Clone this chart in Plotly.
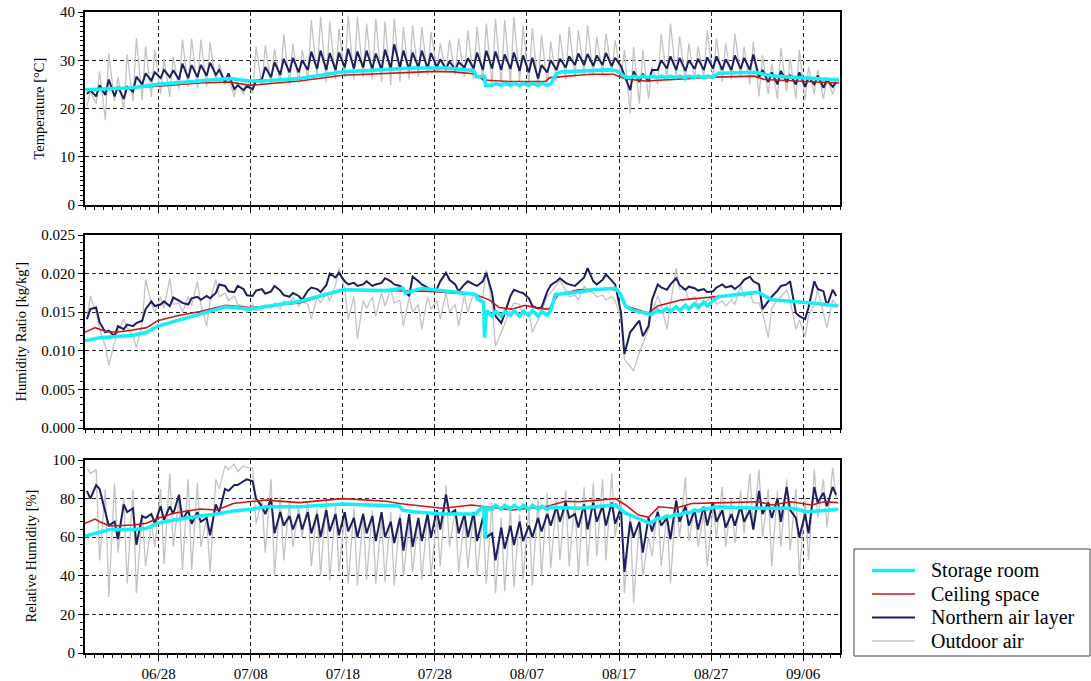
import datetime as dt
import plotly.graph_objects as go

# ---------------------------------------------------------------------------
# Measurement period: 2021-06-20 00:00 .. 2021-09-10 00:00 (82 days)
# Daily-cycle series are stored as one value at 05:00 ("am") and one at
# 14:00 ("pm") of each day; slowly varying series as (day offset, value).
# ---------------------------------------------------------------------------
START = dt.datetime(2021, 6, 20)
N_DAYS = 82

legend_names = ["Storage room", "Ceiling space", "Northern air layer", "Outdoor air"]

# ----------------------------- Temperature [°C] ----------------------------
outdoor_temp_am = [
    20.5, 21.0, 17.6, 21.5, 19.7, 21.5, 21.7, 22.4, 23.0, 22.4,
    24.0, 24.5, 24.1, 24.5, 25.5, 25.0, 22.4, 22.8, 23.1, 24.8,
    25.0, 25.2, 25.0, 25.3, 26.0, 26.5, 25.5, 26.0, 26.5, 26.0,
    26.5, 26.0, 25.5, 24.9, 25.5, 26.0, 26.5, 27.0, 28.0, 27.5,
    27.0, 26.5, 26.0, 25.5, 25.0, 24.8, 25.0, 25.5, 25.0, 24.5,
    24.8, 25.5, 26.0, 26.5, 27.0, 26.6, 27.0, 27.5, 26.5, 19.0,
    21.0, 22.0, 25.0, 26.0, 26.5, 25.5, 26.0, 26.5, 26.0, 25.5,
    26.0, 26.5, 25.0, 22.5, 23.0, 22.0, 23.5, 22.0, 21.7, 23.0,
    22.0, 23.0]
outdoor_temp_pm = [
    23.5, 27.7, 31.4, 26.5, 31.2, 34.6, 32.9, 32.2, 30.3, 30.7,
    34.3, 34.5, 34.3, 33.7, 29.3, 26.5, 25.5, 26.0, 32.8, 33.1,
    32.4, 35.4, 33.4, 32.2, 38.3, 39.0, 38.0, 36.6, 39.3, 39.0,
    37.6, 38.6, 38.0, 38.6, 36.9, 37.2, 36.9, 35.9, 33.5, 34.2,
    34.5, 36.2, 36.9, 37.6, 38.6, 38.3, 39.0, 37.2, 36.6, 35.2,
    33.8, 35.5, 36.9, 36.2, 37.3, 34.9, 35.5, 34.2, 32.1, 32.8,
    32.1, 28.6, 35.5, 37.6, 34.9, 33.5, 32.8, 36.2, 34.5, 33.5,
    35.5, 32.8, 33.8, 31.0, 29.3, 32.5, 30.3, 32.1, 28.6, 28.0,
    26.3, 25.2]
north_temp_am = [
    23.0, 22.5, 22.8, 22.5, 22.0, 23.5, 25.0, 25.8, 26.3, 26.5,
    26.0, 26.3, 26.5, 26.8, 27.0, 25.5, 24.0, 23.8, 24.0, 26.0,
    26.5, 27.0, 27.5, 27.5, 28.0, 28.2, 28.0, 28.0, 28.5, 28.3,
    28.5, 28.2, 28.0, 28.3, 28.5, 28.0, 28.5, 28.3, 28.5, 28.2,
    28.0, 28.5, 28.3, 28.0, 28.3, 28.0, 28.2, 27.8, 27.5, 26.2,
    27.5, 28.0, 28.5, 29.0, 29.0, 28.8, 29.0, 28.8, 28.8, 23.8,
    25.5, 25.6, 28.0, 28.3, 28.0, 27.8, 28.2, 28.0, 28.3, 28.0,
    28.0, 28.2, 28.0, 26.5, 25.5, 25.0, 25.5, 25.0, 24.5, 25.0,
    24.3, 24.5]
north_temp_pm = [
    23.8, 24.8, 26.0, 24.5, 24.5, 26.6, 27.3, 27.5, 28.0, 27.9,
    29.3, 29.0, 29.0, 29.5, 28.0, 27.3, 24.8, 24.6, 25.8, 28.6,
    29.6, 30.3, 30.5, 30.0, 31.8, 32.0, 31.5, 31.6, 32.4, 31.8,
    32.0, 31.4, 32.2, 33.3, 32.0, 31.6, 32.0, 31.5, 30.2, 29.8,
    29.6, 30.4, 31.6, 32.0, 31.8, 31.2, 31.6, 31.0, 30.5, 29.0,
    30.0, 30.3, 30.8, 31.4, 31.3, 31.0, 31.5, 30.5, 27.0, 27.7,
    27.2, 28.0, 30.0, 30.8, 30.5, 30.0, 30.3, 30.6, 30.8, 30.2,
    31.0, 30.5, 31.2, 28.0, 27.5, 27.8, 27.0, 27.5, 26.5, 26.8,
    26.0, 25.5]
ceiling_temp_days = [0, 5.2, 7.9, 12.5, 15.7, 17.9, 23.3, 28.0, 38.0, 40.0,
                     42.2, 43.3, 46.0, 50.0, 50.5, 53.6, 55.0, 57.4, 58.7, 60.9,
                     68.4, 72.7, 73.8, 81.9]
ceiling_temp = [23.8, 24.3, 24.6, 25.3, 25.5, 24.8, 25.7, 26.9, 27.7, 27.6,
                27.2, 25.9, 25.6, 25.6, 26.4, 26.9, 27.1, 27.1, 26.1, 25.7,
                26.5, 26.7, 26.0, 25.3]
storage_temp_days = [0, 5.2, 7.9, 12.5, 15.7, 17.9, 19.3, 23.3, 28.0, 35.6,
                     39.2, 42.2, 42.5, 43.4, 43.5,
                     44.2, 44.6, 45.2, 45.6, 46.2, 46.6, 47.2, 47.6, 48.2, 48.6,
                     49.2, 49.6, 50.2, 50.6,
                     51.2, 51.8, 56.9, 57.8, 58.7,
                     59.2, 59.6, 60.2, 60.6, 61.2, 61.6, 62.2, 62.6, 63.2, 63.6,
                     64.2, 64.6, 65.2, 65.6, 66.2, 66.6, 67.2, 67.6, 68.2,
                     68.8, 72.7, 74.9, 81.9]
storage_temp = [23.9, 24.3, 25.0, 25.7, 26.2, 25.7, 25.7, 26.2, 27.6, 28.4,
                28.4, 27.9, 26.6, 26.6, 24.8,
                24.8, 25.2, 24.8, 25.2, 24.8, 25.2, 24.8, 25.2, 24.8, 25.2,
                24.8, 25.2, 24.8, 25.1,
                27.2, 27.6, 28.0, 27.8, 26.5,
                26.4, 26.7, 26.4, 26.7, 26.4, 26.7, 26.4, 26.7, 26.4, 26.7,
                26.4, 26.7, 26.4, 26.7, 26.4, 26.7, 26.4, 26.7, 26.5,
                27.3, 27.5, 26.7, 25.9]

# --------------------------- Humidity ratio [kg/kg'] -----------------------
outdoor_hr_am = [
    0.0141, 0.0150, 0.0106, 0.0111, 0.0141, 0.0120, 0.0135, 0.0162, 0.0170, 0.0194,
    0.0162, 0.0170, 0.0190, 0.0132, 0.0192, 0.0175, 0.0171, 0.0158, 0.0160, 0.0153,
    0.0155, 0.0154, 0.0160, 0.0158, 0.0160, 0.0170, 0.0175, 0.0185, 0.0180, 0.0170,
    0.0165, 0.0170, 0.0175, 0.0180, 0.0165, 0.0170, 0.0160, 0.0170, 0.0165, 0.0175,
    0.0160, 0.0172, 0.0175, 0.0170, 0.0160, 0.0124, 0.0154, 0.0160, 0.0150, 0.0140,
    0.0171, 0.0185, 0.0178, 0.0172, 0.0184, 0.0175, 0.0172, 0.0170, 0.0141, 0.0080,
    0.0098, 0.0128, 0.0171, 0.0128, 0.0207, 0.0179, 0.0170, 0.0162, 0.0171, 0.0165,
    0.0166, 0.0184, 0.0175, 0.0162, 0.0117, 0.0166, 0.0179, 0.0128, 0.0118, 0.0160,
    0.0150, 0.0166]
outdoor_hr_pm = [
    0.0171, 0.0128, 0.0081, 0.0125, 0.0130, 0.0104, 0.0192, 0.0150, 0.0155, 0.0160,
    0.0150, 0.0158, 0.0160, 0.0165, 0.0170, 0.0165, 0.0160, 0.0150, 0.0152, 0.0160,
    0.0162, 0.0165, 0.0170, 0.0164, 0.0141, 0.0162, 0.0165, 0.0207, 0.0141, 0.0115,
    0.0155, 0.0145, 0.0158, 0.0162, 0.0132, 0.0150, 0.0128, 0.0154, 0.0141, 0.0150,
    0.0132, 0.0150, 0.0164, 0.0205, 0.0106, 0.0135, 0.0162, 0.0145, 0.0124, 0.0150,
    0.0175, 0.0192, 0.0170, 0.0166, 0.0178, 0.0170, 0.0166, 0.0165, 0.0089, 0.0074,
    0.0110, 0.0150, 0.0160, 0.0160, 0.0180, 0.0166, 0.0160, 0.0165, 0.0160, 0.0158,
    0.0160, 0.0170, 0.0162, 0.0150, 0.0155, 0.0170, 0.0165, 0.0140, 0.0145, 0.0179,
    0.0130, 0.0160]
north_hr_am = [
    0.0141, 0.0156, 0.0124, 0.0119, 0.0128, 0.0132, 0.0139, 0.0164, 0.0160, 0.0158,
    0.0165, 0.0160, 0.0170, 0.0171, 0.0175, 0.0184, 0.0176, 0.0180, 0.0171, 0.0180,
    0.0177, 0.0178, 0.0170, 0.0171, 0.0178, 0.0180, 0.0185, 0.0195, 0.0190, 0.0188,
    0.0186, 0.0184, 0.0188, 0.0190, 0.0184, 0.0171, 0.0190, 0.0182, 0.0180, 0.0201,
    0.0186, 0.0186, 0.0186, 0.0190, 0.0175, 0.0136, 0.0171, 0.0176, 0.0168, 0.0155,
    0.0177, 0.0190, 0.0188, 0.0184, 0.0195, 0.0190, 0.0192, 0.0190, 0.0150, 0.0124,
    0.0139, 0.0132, 0.0186, 0.0179, 0.0194, 0.0179, 0.0181, 0.0180, 0.0177, 0.0186,
    0.0184, 0.0186, 0.0196, 0.0186, 0.0164, 0.0178, 0.0186, 0.0149, 0.0141, 0.0190,
    0.0177, 0.0179]
north_hr_pm = [
    0.0154, 0.0137, 0.0126, 0.0132, 0.0134, 0.0136, 0.0154, 0.0158, 0.0164, 0.0169,
    0.0162, 0.0168, 0.0166, 0.0168, 0.0186, 0.0177, 0.0184, 0.0172, 0.0178, 0.0174,
    0.0184, 0.0172, 0.0175, 0.0166, 0.0182, 0.0176, 0.0200, 0.0201, 0.0186, 0.0184,
    0.0190, 0.0186, 0.0194, 0.0186, 0.0180, 0.0196, 0.0186, 0.0177, 0.0190, 0.0192,
    0.0177, 0.0190, 0.0184, 0.0201, 0.0145, 0.0148, 0.0179, 0.0175, 0.0158, 0.0156,
    0.0185, 0.0194, 0.0186, 0.0188, 0.0207, 0.0186, 0.0199, 0.0186, 0.0096, 0.0130,
    0.0119, 0.0166, 0.0182, 0.0186, 0.0185, 0.0183, 0.0178, 0.0176, 0.0182, 0.0182,
    0.0180, 0.0192, 0.0190, 0.0154, 0.0170, 0.0184, 0.0190, 0.0145, 0.0156, 0.0180,
    0.0158, 0.0171]
ceiling_hr_days = [0, 1.1, 2.3, 3.4, 5.2, 6.7, 7.9, 9.9, 12.5, 15.3,
                   17.9, 21.5, 23.3, 28.0, 32.7, 37.7, 39.9, 42.4, 43.9, 45.0,
                   46.4, 47.8, 49.2, 50.4, 51.4, 53.6, 56.9, 57.9, 58.7, 61.2,
                   62.2, 64.8, 68.4, 73.1, 74.6, 78.9, 81.8]
ceiling_hr = [0.0124, 0.0130, 0.0125, 0.0124, 0.0127, 0.0130, 0.0139, 0.0145, 0.0151, 0.0159,
              0.0156, 0.0160, 0.0162, 0.0179, 0.0178, 0.0177, 0.0175, 0.0173, 0.0166, 0.0156,
              0.0154, 0.0159, 0.0155, 0.0154, 0.0173, 0.0179, 0.0180, 0.0178, 0.0158, 0.0149,
              0.0158, 0.0166, 0.0170, 0.0175, 0.0166, 0.0162, 0.0158]
storage_hr_days = [0, 1.6, 5.2, 6.7, 7.9, 9.9, 12.5, 15.3, 17.9, 19.7,
                   21.5, 23.3, 28.0, 32.7, 34.5, 34.8, 36.6, 39.2, 42.4, 42.8,
                   43.3, 43.4, 43.6,
                   44.2, 44.6, 45.2, 45.6, 46.2, 46.6, 47.2, 47.6, 48.2, 48.6,
                   49.2, 49.6, 50.2, 50.5,
                   51.1, 53.6, 55.1, 57.6, 58.1, 58.7, 59.4, 61.4,
                   61.8, 62.2, 62.6, 63.2, 63.6, 64.2, 64.6, 65.2, 65.6, 66.2,
                   66.6, 67.2, 67.6, 68.2,
                   68.8, 73.1, 74.6, 76.7, 78.9, 81.8]
storage_hr = [0.0113, 0.0117, 0.0120, 0.0124, 0.0132, 0.0139, 0.0147, 0.0157, 0.0154, 0.0157,
              0.0161, 0.0164, 0.0179, 0.0178, 0.0181, 0.0175, 0.0181, 0.0177, 0.0173, 0.0166,
              0.0163, 0.0117, 0.0152,
              0.0145, 0.0151, 0.0145, 0.0151, 0.0146, 0.0152, 0.0145, 0.0151, 0.0146, 0.0152,
              0.0145, 0.0151, 0.0146, 0.0150,
              0.0173, 0.0176, 0.0179, 0.0181, 0.0175, 0.0158, 0.0153, 0.0147,
              0.0149, 0.0153, 0.0150, 0.0155, 0.0151, 0.0157, 0.0152, 0.0159, 0.0154, 0.0161,
              0.0156, 0.0163, 0.0158, 0.0165,
              0.0170, 0.0176, 0.0166, 0.0164, 0.0162, 0.0158]

# --------------------------- Relative humidity [%] -------------------------
outdoor_rh_am = [
    96, 95, 85, 88, 80, 85, 72, 67, 85, 93,
    80, 90, 88, 70, 90, 97, 98, 97, 96, 80,
    90, 81, 78, 76, 78, 75, 80, 76, 72, 75,
    72, 74, 70, 73, 72, 68, 70, 72, 70, 87,
    74, 70, 72, 72, 78, 70, 76, 72, 75, 80,
    83, 80, 84, 80, 86, 88, 90, 93, 80, 72,
    68, 60, 76, 72, 80, 91, 75, 72, 76, 86,
    80, 84, 93, 95, 85, 84, 90, 85, 80, 95,
    90, 96]
outdoor_rh_pm = [
    93, 48, 29, 52, 36, 31, 45, 55, 46, 55,
    43, 43, 55, 42, 85, 95, 94, 96, 67, 52,
    40, 48, 55, 60, 45, 40, 38, 42, 36, 35,
    38, 36, 37, 35, 40, 42, 38, 40, 45, 55,
    42, 44, 40, 36, 31, 32, 34, 38, 35, 40,
    44, 48, 45, 40, 45, 50, 48, 60, 31, 26,
    40, 50, 45, 36, 60, 58, 55, 45, 60, 55,
    57, 62, 65, 60, 45, 55, 53, 40, 48, 70,
    65, 80]
north_rh_am = [
    84, 87, 73, 68, 77, 75, 71, 72, 76, 76,
    82, 74, 73, 70, 77, 85, 87, 89, 89, 76,
    80, 73, 71, 72, 73, 72, 74, 72, 73, 70,
    72, 71, 73, 68, 70, 72, 70, 72, 74, 82,
    74, 72, 73, 70, 62, 65, 66, 68, 66, 70,
    72, 76, 78, 72, 77, 78, 76, 78, 75, 68,
    68, 70, 73, 70, 79, 76, 74, 76, 78, 74,
    72, 76, 74, 84, 78, 80, 86, 70, 72, 86,
    83, 86]
north_rh_pm = [
    80, 85, 66, 59, 73, 56, 70, 67, 69, 72,
    69, 67, 68, 61, 73, 84, 87, 90, 80, 72,
    62, 66, 64, 64, 62, 60, 63, 61, 63, 60,
    62, 58, 60, 57, 53, 55, 58, 60, 64, 72,
    62, 60, 58, 60, 48, 54, 56, 58, 60, 63,
    66, 68, 70, 65, 64, 68, 66, 67, 42, 60,
    52, 63, 66, 59, 68, 66, 64, 66, 68, 65,
    66, 68, 64, 72, 70, 68, 74, 60, 62, 78,
    76, 82]
ceiling_rh_days = [0, 1.1, 1.6, 2.7, 5.2, 6.7, 7.9, 9.6, 12.5, 14.3,
                   16.1, 17.9, 19.7, 20.7, 23.3, 28.0, 32.7, 34.1, 37.0, 38.8,
                   42.0, 43.5, 46.4, 50.0, 52.2, 53.6, 57.6, 58.7, 60.1, 61.2,
                   62.3, 64.1, 65.9, 69.5, 73.1, 74.6, 76.7, 78.9, 80.3, 81.8]
ceiling_rh = [67.2, 69.4, 68.0, 65.8, 66.3, 67.2, 69.8, 72.4, 74.6, 74.1,
              77.5, 78.4, 79.3, 78.8, 77.9, 80.0, 78.6, 77.5, 75.8, 75.0,
              76.7, 75.8, 74.1, 75.8, 78.6, 78.4, 80.0, 76.7, 71.5, 70.3,
              75.8, 75.0, 77.5, 77.9, 78.4, 76.7, 78.4, 76.7, 78.4, 77.9]
storage_rh_days = [0, 1.6, 2.7, 5.2, 6.7, 7.9, 9.6, 12.5, 14.3, 16.1,
                   17.9, 19.7, 23.3, 28.0, 34.1, 34.5, 35.6, 38.8, 42.4, 42.8,
                   43.3, 43.45, 43.6,
                   44.2, 44.6, 45.2, 45.6, 46.2, 46.6, 47.2, 47.6, 48.2, 48.6,
                   49.2, 49.6, 50.2, 50.5,
                   53.6, 57.6, 58.7, 60.1, 61.4,
                   61.8, 62.2, 62.6, 63.2, 63.6, 64.2, 64.6, 65.2, 65.6, 66.2,
                   66.6, 67.2, 67.6, 68.2,
                   68.4, 73.1, 76.7, 78.5, 81.8]
storage_rh = [60.6, 62.9, 64.0, 64.0, 64.6, 67.2, 68.9, 71.0, 72.0, 73.6,
              74.4, 75.8, 75.8, 77.2, 76.2, 74.0, 73.2, 72.0, 72.0, 74.0,
              76.0, 59.4, 75.0,
              74.5, 76.5, 74.5, 76.5, 74.5, 76.5, 74.5, 76.5, 74.5, 76.5,
              74.5, 76.0, 74.5, 75.5,
              75.0, 76.7, 72.4, 69.8, 67.2,
              68.5, 70.0, 69.5, 71.0, 70.5, 72.0, 71.5, 73.0, 72.5, 74.0,
              73.5, 75.0, 74.5, 75.5,
              75.8, 75.0, 75.0, 73.2, 74.4]

# Axis settings per panel: (title, range, major step, minor step, tick format)
panel_axes = [
    ("Temperature [°C]", [0, 40], 10, 1, None),
    ("Humidity Ratio [kg/kg']", [0, 0.025], 0.005, 0.001, ".3f"),
    ("Relative Humidity [%]", [0, 100], 20, 4, None),
]

# ---------------------------------------------------------------------------
for arr in (outdoor_temp_am, outdoor_temp_pm, north_temp_am, north_temp_pm,
            outdoor_hr_am, outdoor_hr_pm, north_hr_am, north_hr_pm,
            outdoor_rh_am, outdoor_rh_pm, north_rh_am, north_rh_pm):
    assert len(arr) == N_DAYS, len(arr)
for a, b in ((ceiling_temp_days, ceiling_temp), (storage_temp_days, storage_temp),
             (ceiling_hr_days, ceiling_hr), (storage_hr_days, storage_hr),
             (ceiling_rh_days, ceiling_rh), (storage_rh_days, storage_rh)):
    assert len(a) == len(b), (len(a), len(b))


def cycle_series(am, pm):
    """Interleave 05:00 and 14:00 readings into one time-ordered series."""
    t, v = [], []
    for d in range(N_DAYS):
        t.append(START + dt.timedelta(days=d, hours=5))
        v.append(am[d])
        t.append(START + dt.timedelta(days=d, hours=14))
        v.append(pm[d])
    return t, v


def knot_series(days, vals):
    return [START + dt.timedelta(days=x) for x in days], list(vals)


styles = {
    "Outdoor air": dict(color="#C3C3C3", width=1.3),
    "Northern air layer": dict(color="#1B1F5E", width=2.0),
    "Ceiling space": dict(color="#D01414", width=1.6),
    "Storage room": dict(color="#14EEF4", width=3.6),
}

panels = [
    {"Outdoor air": cycle_series(outdoor_temp_am, outdoor_temp_pm),
     "Northern air layer": cycle_series(north_temp_am, north_temp_pm),
     "Ceiling space": knot_series(ceiling_temp_days, ceiling_temp),
     "Storage room": knot_series(storage_temp_days, storage_temp)},
    {"Outdoor air": cycle_series(outdoor_hr_am, outdoor_hr_pm),
     "Northern air layer": cycle_series(north_hr_am, north_hr_pm),
     "Ceiling space": knot_series(ceiling_hr_days, ceiling_hr),
     "Storage room": knot_series(storage_hr_days, storage_hr)},
    {"Outdoor air": cycle_series(outdoor_rh_am, outdoor_rh_pm),
     "Northern air layer": cycle_series(north_rh_am, north_rh_pm),
     "Ceiling space": knot_series(ceiling_rh_days, ceiling_rh),
     "Storage room": knot_series(storage_rh_days, storage_rh)},
]

W, H = 1091, 681
FONT = "Liberation Serif, Tinos, 'Times New Roman', 'DejaVu Serif', serif"
x_dom = [85 / W, 840 / W]
y_doms = [[1 - 205 / H, 1 - 12 / H], [1 - 428 / H, 1 - 235 / H], [1 - 653 / H, 1 - 460 / H]]
title_x = [38, 20, 30]

fig = go.Figure()
draw_order = ["Outdoor air", "Northern air layer", "Ceiling space", "Storage room"]
for i, series in enumerate(panels):
    sfx = "" if i == 0 else str(i + 1)
    for name in draw_order:
        t, v = series[name]
        fig.add_trace(go.Scatter(
            x=t, y=v, mode="lines", name=name,
            line=styles[name],
            xaxis="x" + sfx, yaxis="y" + sfx,
            showlegend=False,
        ))

layout = dict(
    width=W, height=H,
    margin=dict(l=0, r=0, t=0, b=0, autoexpand=False),
    paper_bgcolor="white", plot_bgcolor="white",
    font=dict(family=FONT, size=15, color="black"),
    showlegend=False,
    annotations=[],
    shapes=[],
)

end = START + dt.timedelta(days=N_DAYS)
for i, (title, yr, dmaj, dmin, fmt) in enumerate(panel_axes):
    sfx = "" if i == 0 else str(i + 1)
    layout["xaxis" + sfx] = dict(
        type="date", domain=x_dom, anchor="y" + sfx, range=[START, end],
        automargin=False,
        showline=True, mirror=True, linecolor="black", linewidth=2,
        ticks="outside", ticklen=6, tickcolor="black", tickwidth=1,
        tick0="2021-06-28", dtick=10 * 86400000, tickformat="%m/%d",
        showgrid=True, gridcolor="#222222", gridwidth=1, griddash="4px,3px",
        minor=dict(dtick=86400000, tick0="2021-06-20", ticks="outside",
                   ticklen=3, tickcolor="black", showgrid=False),
        zeroline=False, showticklabels=(i == 2),
        tickfont=dict(family=FONT, size=15, color="black"),
    )
    ya = dict(
        domain=y_doms[i], anchor="x" + sfx, range=yr,
        automargin=False,
        showline=True, mirror=True, linecolor="black", linewidth=2,
        ticks="outside", ticklen=5, tickcolor="black", tickwidth=1,
        tick0=0, dtick=dmaj,
        showgrid=True, gridcolor="#222222", gridwidth=1, griddash="4px,3px",
        minor=dict(dtick=dmin, tick0=0, ticks="outside", ticklen=3,
                   tickcolor="black", showgrid=False),
        zeroline=False,
        tickfont=dict(family=FONT, size=15, color="black"),
    )
    if fmt:
        ya["tickformat"] = fmt
    layout["yaxis" + sfx] = ya
    layout["annotations"].append(dict(
        text=title, xref="paper", yref="paper",
        x=title_x[i] / W, y=sum(y_doms[i]) / 2,
        xanchor="center", yanchor="middle", textangle=-90, showarrow=False,
        font=dict(family=FONT, size=14.5, color="black"),
    ))

# Legend box in the lower right corner, entries listed top to bottom
box_l, box_r, box_t, box_b = 854, 1090, 549, 656
row_y = [570.5, 594, 617.5, 641]
layout["shapes"].append(dict(
    type="rect", xref="paper", yref="paper",
    x0=box_l / W, x1=box_r / W, y0=1 - box_b / H, y1=1 - box_t / H,
    line=dict(color="#444444", width=1), fillcolor="white", layer="above",
))
for name, ry in zip(legend_names, row_y):
    st = styles[name]
    layout["shapes"].append(dict(
        type="line", xref="paper", yref="paper",
        x0=872 / W, x1=915 / W, y0=1 - ry / H, y1=1 - ry / H,
        line=dict(color=st["color"], width=st["width"]), layer="above",
    ))
    layout["annotations"].append(dict(
        text=name, xref="paper", yref="paper", x=929 / W, y=1 - ry / H,
        xanchor="left", yanchor="middle", showarrow=False,
        font=dict(family=FONT, size=20, color="black"),
    ))

fig.update_layout(**layout)
fig.write_html("out.html")
